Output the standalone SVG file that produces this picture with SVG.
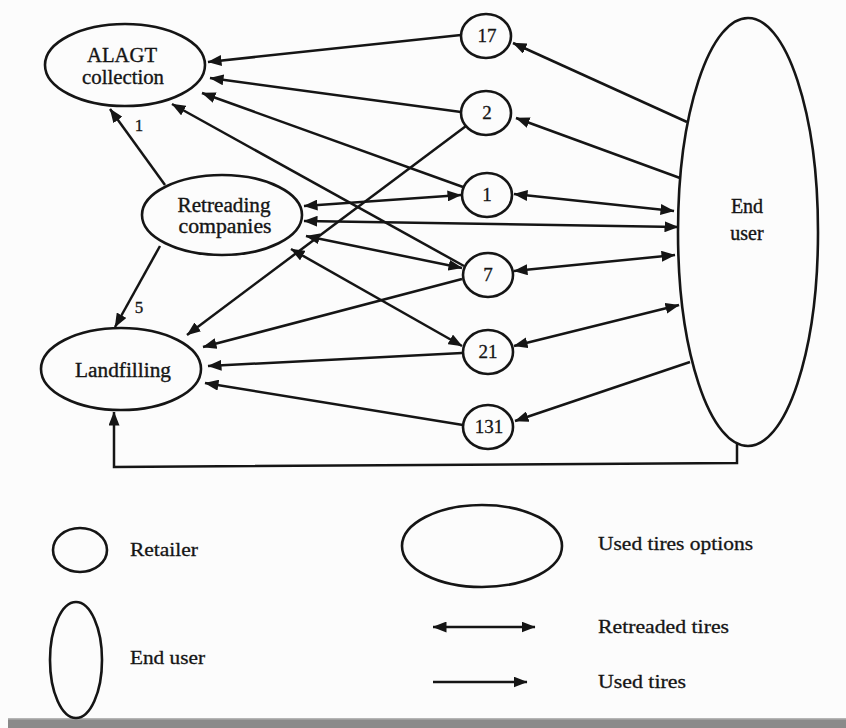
<svg xmlns="http://www.w3.org/2000/svg" width="846" height="728" viewBox="0 0 846 728">
<style>
.n{fill:none;stroke:#151515;stroke-width:2.6}
.c{fill:none;stroke:#151515;stroke-width:2.5}
.t{font-family:"Liberation Serif","Times New Roman",serif;font-size:20px;fill:#151515;stroke:#151515;stroke-width:0.35}
.s{font-family:"Liberation Serif","Times New Roman",serif;font-size:19px;fill:#151515;stroke:#151515;stroke-width:0.3}
.m{text-anchor:middle}
</style>
<defs>
<marker id="ah" viewBox="0 0 14 11" refX="13.5" refY="5.5" markerWidth="14" markerHeight="11" markerUnits="userSpaceOnUse" orient="auto-start-reverse">
<path d="M0,0 L14,5.5 L0,11 z" fill="#151515"/>
</marker>
</defs>
<rect width="846" height="728" fill="#fcfcfc"/>
<rect x="8" y="719" width="838" height="9" fill="#8a8a8a"/>
<rect x="8" y="718" width="838" height="1.5" fill="#b5b5b5"/>

<g id="connectors">
<g id="used-tires" marker-end="url(#ah)">
<line class="c" x1="461" y1="35" x2="208" y2="62"/>
<line class="c" x1="461" y1="112" x2="210" y2="78"/>
<line class="c" x1="463" y1="187" x2="202" y2="93"/>
<line class="c" x1="464" y1="266" x2="172" y2="104"/>
<line class="c" x1="165" y1="185" x2="110" y2="109"/>
<line class="c" x1="160" y1="246" x2="115" y2="327"/>
<line class="c" x1="466" y1="126" x2="187" y2="335"/>
<line class="c" x1="462" y1="279" x2="203" y2="347"/>
<line class="c" x1="462" y1="353" x2="208" y2="366"/>
<line class="c" x1="463" y1="425" x2="205" y2="383"/>
<line class="c" x1="687" y1="122" x2="513" y2="43"/>
<line class="c" x1="680" y1="178" x2="516" y2="118"/>
<line class="c" x1="690" y1="362" x2="515" y2="421"/>
<polyline class="c" points="737,443 737,463 114,467 114,412"/>
</g>
<g id="retreaded-tires" marker-start="url(#ah)" marker-end="url(#ah)">
<line class="c" x1="304" y1="206" x2="461" y2="195"/>
<line class="c" x1="304" y1="221" x2="678" y2="227"/>
<line class="c" x1="306" y1="236" x2="462" y2="268"/>
<line class="c" x1="291" y1="249" x2="462" y2="346"/>
<line class="c" x1="514" y1="194" x2="674" y2="211"/>
<line class="c" x1="514" y1="271" x2="675" y2="255"/>
<line class="c" x1="514" y1="346" x2="679" y2="305"/>
</g>
<text class="s" x="139" y="131" style="font-size:17px" text-anchor="middle">1</text>
<text class="s" x="139" y="313" style="font-size:17px" text-anchor="middle">5</text>
</g>

<g id="alagt">
<ellipse class="n" cx="125" cy="65" rx="80" ry="41"/>
<text class="t m" x="122" y="62" textLength="70" lengthAdjust="spacingAndGlyphs">ALAGT</text>
<text class="t m" x="123" y="84" textLength="82" lengthAdjust="spacingAndGlyphs">collection</text>
</g>
<g id="retreading">
<ellipse class="n" cx="222" cy="215" rx="80" ry="40"/>
<text class="t m" x="224" y="212" textLength="93" lengthAdjust="spacingAndGlyphs">Retreading</text>
<text class="t m" x="225" y="233" textLength="93" lengthAdjust="spacingAndGlyphs">companies</text>
</g>
<g id="landfilling">
<ellipse class="n" cx="121" cy="369" rx="80" ry="41"/>
<text class="t m" x="123" y="377" textLength="96" lengthAdjust="spacingAndGlyphs">Landfilling</text>
</g>
<g id="end-user">
<ellipse class="n" cx="748" cy="232" rx="70" ry="214"/>
<text class="t m" x="747" y="213">End</text>
<text class="t m" x="747" y="240">user</text>
</g>
<g id="r17"><ellipse class="n" cx="486" cy="36" rx="25" ry="22"/><text class="s m" x="487" y="42">17</text></g>
<g id="r2"><ellipse class="n" cx="486" cy="113" rx="25" ry="22"/><text class="s m" x="487" y="119">2</text></g>
<g id="r1"><ellipse class="n" cx="487" cy="195" rx="25" ry="22"/><text class="s m" x="487" y="201">1</text></g>
<g id="r7"><ellipse class="n" cx="488" cy="275" rx="25" ry="22"/><text class="s m" x="488" y="281">7</text></g>
<g id="r21"><ellipse class="n" cx="488" cy="352" rx="25" ry="22"/><text class="s m" x="488" y="358">21</text></g>
<g id="r131"><ellipse class="n" cx="488" cy="427" rx="25" ry="22"/><text class="s m" x="489" y="433">131</text></g>

<g id="legend">
<g id="legend-retailer"><ellipse class="n" cx="80" cy="550" rx="27" ry="22"/><text class="s" x="130" y="556" textLength="68" lengthAdjust="spacingAndGlyphs">Retailer</text></g>
<g id="legend-enduser"><ellipse class="n" cx="76" cy="660" rx="26" ry="58"/><text class="s" x="130" y="664" textLength="75" lengthAdjust="spacingAndGlyphs">End user</text></g>
<g id="legend-options"><ellipse class="n" cx="482" cy="546" rx="80" ry="41"/><text class="s" x="598" y="550" textLength="155" lengthAdjust="spacingAndGlyphs">Used tires options</text></g>
<g id="legend-retreaded"><line class="c" x1="433" y1="627" x2="535" y2="627" marker-start="url(#ah)" marker-end="url(#ah)"/><text class="s" x="598" y="633" textLength="131" lengthAdjust="spacingAndGlyphs">Retreaded tires</text></g>
<g id="legend-used"><line class="c" x1="433" y1="682" x2="527" y2="682" marker-end="url(#ah)"/><text class="s" x="598" y="688" textLength="88" lengthAdjust="spacingAndGlyphs">Used tires</text></g>
</g>
</svg>
